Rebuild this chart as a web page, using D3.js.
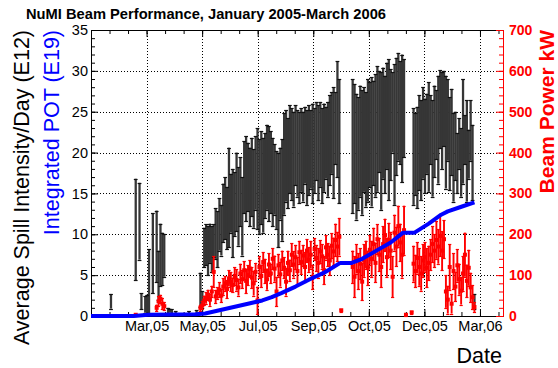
<!DOCTYPE html>
<html>
<head>
<meta charset="utf-8">
<script src="https://cdn.jsdelivr.net/npm/d3@7"></script>
<style>
  body { margin: 0; background: #fff; }
  svg { display: block; font-family: 'Liberation Sans', Arial, Helvetica, sans-serif; }
</style>
</head>
<body>
<div id="chart"></div>
<script>
// day numbers are counted from 1 Jan 2005
const xTickDays = [58.4, 116.8, 175.2, 233.6, 292.0, 350.4, 408.8];
const xTickLabels = ['Mar,05', 'May,05', 'Jul,05', 'Sep,05', 'Oct,05', 'Dec,05', 'Mar,06'];
const spillTicks = [0, 5, 10, 15, 20, 25, 30, 35];
const powerTicks = [0, 100, 200, 300, 400, 500, 600, 700];

const days = [21, 47, 51, 53, 57, 59, 61, 65, 69, 71, 73, 75, 77, 81, 83, 85, 89, 103, 111,
  115, 117, 119, 121, 123, 125, 127, 129, 131, 133, 135, 137, 139, 141, 143, 145, 147, 149, 151, 153,
  155, 157, 159, 161, 163, 165, 167, 169, 171, 173, 175, 177, 179, 181, 183, 185, 187, 189, 191, 193,
  195, 197, 199, 201, 203, 205, 207, 209, 211, 213, 215, 217, 219, 221, 223, 225, 227, 229, 231, 233,
  235, 237, 239, 241, 243, 245, 247, 249, 251, 253, 255, 257, 259, 261, 263,
  275, 277, 279, 281, 283, 285, 287, 289, 291, 293, 295, 297, 299, 301, 303, 305, 307, 309, 311, 313,
  315, 317, 319, 321, 323, 325, 327, 329, 331, 337,
  339, 341, 343, 345, 347, 349, 351, 353, 355, 357, 359, 361, 363, 365, 367, 369, 371, 373, 375, 377,
  379, 381, 383, 385, 387, 389, 391, 393, 395, 397, 399, 401, 403];

// average spill intensity (E12) and its error
const spillVal = [1.8, 10.6, 11.6, 1.8, 1.4, 1.5, 4.2, 7.7, 8.5, 5.0, 7.5, 7.0, 7.4, 0.65, 0.65, 0.55, 0.4, 0.4, 0.5,
  3.2, 2.0, 8.4, 8.7, 8.0, 8.9, 8.2, 9.2, 10.1, 9.4,
  11.2, 10.5, 12.6, 13.2, 12.0, 14.5, 13.8, 12.6, 13.7, 15.2,
  13.4, 15.2, 12.2, 17.0, 16.8, 17.0, 15.8, 17.0, 15.6, 17.5,
  16.8, 15.8, 16.9, 16.0, 17.2, 18.2, 17.4, 17.6, 16.4, 16.7,
  15.4, 14.2, 16.2, 15.4, 18.6, 19.6, 18.7, 20.4, 19.8, 19.2,
  20.9, 19.9, 19.4, 20.3, 19.5, 20.9, 19.4, 20.3, 20.4, 19.9,
  20.2, 21.4, 20.0, 21.0, 19.6, 20.6, 21.2, 20.4, 21.5, 22.4,
  21.2, 23.0, 24.1, 21.4, null,
  20.8, 21.1, 19.5, 19.9, 21.4, 20.0, 21.6, 20.4, 21.5, 22.2,
  21.3, 22.4, 22.1, 22.9, 23.8, 21.4, 23.6, 22.2, 24.5, 22.8,
  23.4, 24.9, 22.2, 24.4, 25.6, 24.9, 24.2, 25.4, null, null,
  19.5, 19.8, 19.4, 21.2, 20.3, 22.4, 20.8, 22.3, 21.9, 22.8,
  20.5, 22.6, 23.4, 22.8, 25.3, 23.9, 25.4, 22.5, 24.0, 21.1,
  22.5, 19.4, 20.8, 18.7, 21.1, 18.8, 22.6, 21.6, 20.2, 19.8,
  22.7, 18.8, 1.8];
const spillErr = [0.9, 6.2, 4.7, 1.0, 1.0, 1.1, 4.0, 4.9, 4.4, 3.0, 3.8, 3.2, 2.6, 0.35, 0.25, 0.25, 0.2, 0.2, 0.2,
  2.1, 1.0, 2.4, 2.5, 3.0, 2.4, 2.8, 2.0, 3.1, 3.4,
  3.2, 3.1, 3.6, 3.8, 3.8, 6.1, 3.6, 5.4, 3.9, 4.8,
  4.8, 4.2, 4.8, 4.4, 5.2, 4.2, 4.8, 4.8, 4.8, 4.5,
  6.2, 5.8, 5.7, 5.8, 5.2, 5.2, 5.8, 5.0, 5.4, 4.3,
  4.8, 5.8, 4.4, 6.2, 6.2, 5.6, 5.5, 5.4, 5.6, 5.8,
  4.9, 5.3, 5.6, 5.1, 5.5, 4.7, 5.8, 5.5, 4.8, 6.1,
  5.2, 4.8, 5.8, 5.2, 5.8, 5.4, 4.4, 5.8, 5.5, 5.0,
  6.8, 4.4, 7.1, 7.6, null,
  8.2, 7.3, 7.7, 6.9, 6.8, 7.6, 6.4, 7.0, 7.5, 6.4,
  7.9, 6.4, 7.5, 7.7, 6.2, 8.4, 6.8, 7.2, 6.5, 8.6,
  6.8, 4.9, 8.6, 7.2, 6.6, 6.3, 7.8, 6.0, null, null,
  5.9, 5.0, 6.2, 5.8, 6.1, 5.6, 5.8, 4.9, 6.7, 4.2,
  5.9, 5.6, 4.2, 6.6, 4.8, 5.9, 4.6, 6.9, 5.0, 5.7,
  5.3, 5.4, 4.2, 3.7, 3.1, 4.2, 6.4, 3.0, 6.2, 3.0,
  3.7, 4.6, 0.9];

// beam power (kW) and its error
const powerVal = [null, 3, null, null, null, null, null, null, 20, 36, 42, 30, 24, null, null, null, null, null, null,
  20, 26, 38, 44, 52, 40, 60, 108, 48, 56,
  64, 50, 72, 80, 66, 92, 84, 76, 98, 88,
  70, 104, 90, 112, 86, 100, 116, 94, 80, 108,
  38, 120, 98, 132, 110, 90, 126, 104, 140, 116,
  60, 124, 102, 136, 118, 84, 130, 112, 150, 126,
  144, 110, 156, 132, 148, 120, 160, 138, 150, 96,
  164, 142, 130, 158, 146, 112, 168, 150, 136, 172,
  158, 186, 170, 194, 14,
  120, 96, 140, 110, 128, 84, 136, 150, 118, 162,
  140, 176, 130, 188, 150, 120, 176, 198, 144, 186,
  160, 96, 204, 170, 220, 180, 150, 210, 3, 9,
  128, 110, 142, 120, 104, 136, 144, 118, 130, 150,
  176, 160, 186, 170, 196, 160, 188, 60, 40, 120,
  30, 110, 72, 124, 90, 62, 104, 150, 86, 118,
  70, 46, 22];
const powerErr = [null, 2, null, null, null, null, null, null, 8, 12, 10, 14, 10, null, null, null, null, null, null,
  8, 10, 12, 14, 12, 15, 14, 38, 16, 14,
  18, 16, 20, 18, 22, 20, 24, 18, 22, 26,
  20, 24, 22, 22, 30, 24, 20, 26, 30, 22,
  34, 26, 28, 24, 30, 26, 28, 24, 26, 32,
  36, 28, 30, 24, 26, 34, 30, 26, 28, 32,
  30, 34, 28, 30, 26, 36, 28, 30, 34, 30,
  26, 32, 36, 28, 30, 34, 30, 28, 36, 30,
  34, 40, 36, 46, 3,
  40, 50, 36, 44, 38, 46, 40, 34, 42, 36,
  44, 40, 48, 36, 40, 50, 44, 40, 48, 42,
  46, 50, 44, 48, 50, 46, 56, 60, 2, 3,
  44, 40, 38, 46, 42, 40, 36, 48, 42, 38,
  44, 40, 46, 42, 50, 48, 46, 40, 34, 56,
  24, 44, 36, 40, 38, 34, 42, 54, 40, 44,
  36, 30, 12];

// integrated protons on target (E19)
const potDay = [0, 45, 60, 110, 120, 135, 150, 165, 180, 190, 200, 215, 230, 245, 262, 274, 285, 300, 315, 328, 340, 355, 368, 375, 390, 403];
const potVal = [0, 0, 0.15, 0.2, 0.3, 0.7, 1.1, 1.5, 1.9, 2.3, 2.8, 3.6, 4.5, 5.3, 6.5, 6.5, 7.0, 8.0, 9.0, 10.2, 10.2, 11.3, 12.4, 12.8, 13.4, 13.9];

const W = 558, H = 368;
const frame = {left: 91, right: 503, top: 30, bottom: 316};
const FONT = "'Liberation Sans', Arial, Helvetica, sans-serif";

const x = d3.scaleLinear().domain([0, 433]).range([frame.left, frame.right]);
const yL = d3.scaleLinear().domain([0, 35]).range([frame.bottom, frame.top]);
const yR = d3.scaleLinear().domain([0, 700]).range([frame.bottom, frame.top]);

const svg = d3.select('#chart').append('svg')
  .attr('width', W)
  .attr('height', H);

// dotted grid
let grid = svg.append('g')
  .attr('stroke', '#000')
  .attr('stroke-width', 1)
  .attr('stroke-dasharray', '1,2');
grid.selectAll('line.gx')
  .data(xTickDays)
  .join('line')
  .attr('class', 'gx')
  .attr('x1', d => Math.round(x(d)) + 0.5)
  .attr('x2', d => Math.round(x(d)) + 0.5)
  .attr('y1', frame.top)
  .attr('y2', frame.bottom);
grid.selectAll('line.gy')
  .data(spillTicks.slice(1, -1))
  .join('line')
  .attr('class', 'gy')
  .attr('x1', frame.left)
  .attr('x2', frame.right)
  .attr('y1', d => Math.round(yL(d)) + 0.5)
  .attr('y2', d => Math.round(yL(d)) + 0.5);

function styleAxis(g, size, weight, colour) {
  g.attr('font-family', FONT)
    .attr('font-size', size)
    .attr('font-weight', weight)
    .attr('color', colour);
}

// minor ticks
let xMinor = d3.range(0, 433, xTickDays[0] / 3);
svg.append('g')
  .attr('transform', 'translate(0,' + frame.bottom + ')')
  .call(d3.axisBottom(x).tickValues(xMinor).tickSizeInner(-4).tickSizeOuter(0).tickFormat(''));
svg.append('g')
  .attr('transform', 'translate(0,' + frame.top + ')')
  .call(d3.axisTop(x).tickValues(xMinor).tickSizeInner(-4).tickSizeOuter(0).tickFormat(''));
svg.append('g')
  .attr('transform', 'translate(' + frame.left + ',0)')
  .call(d3.axisLeft(yL).tickValues(d3.range(0, 36, 1)).tickSizeInner(-4).tickSizeOuter(0).tickFormat(''));

// major axes
let xAxis = svg.append('g')
  .attr('transform', 'translate(0,' + frame.bottom + ')')
  .call(d3.axisBottom(x).tickValues(xTickDays).tickFormat((d, i) => xTickLabels[i])
    .tickSizeInner(-7).tickSizeOuter(0).tickPadding(5));
styleAxis(xAxis, 14.5, 'normal', '#000');

svg.append('g')
  .attr('transform', 'translate(0,' + frame.top + ')')
  .call(d3.axisTop(x).tickValues(xTickDays).tickSizeInner(-7).tickSizeOuter(0).tickFormat(''));

let yAxis = svg.append('g')
  .attr('transform', 'translate(' + frame.left + ',0)')
  .call(d3.axisLeft(yL).tickValues(spillTicks).tickSizeInner(-7).tickSizeOuter(0).tickPadding(3));
styleAxis(yAxis, 14.5, 'normal', '#000');

let rMinor = svg.append('g')
  .attr('transform', 'translate(' + frame.right + ',0)')
  .call(d3.axisRight(yR).tickValues(d3.range(0, 701, 20)).tickSizeInner(-4).tickSizeOuter(0).tickFormat(''));
styleAxis(rMinor, 14, 'bold', '#ff0000');
let rAxis = svg.append('g')
  .attr('transform', 'translate(' + frame.right + ',0)')
  .call(d3.axisRight(yR).tickValues(powerTicks).tickSizeInner(-7).tickSizeOuter(0).tickPadding(6));
styleAxis(rAxis, 14, 'bold', '#ff0000');

// error bar graphs
function errorBars(parent, pts, scale, colour, width, capW, capColour) {
  let g = parent.append('g').attr('stroke', colour).attr('stroke-width', width);
  g.selectAll('line.bar')
    .data(pts)
    .join('line')
    .attr('class', 'bar')
    .attr('x1', d => x(d.d))
    .attr('x2', d => x(d.d))
    .attr('y1', d => scale(Math.max(0, d.v - d.e)))
    .attr('y2', d => scale(d.v + d.e));
  let caps = pts.flatMap(p => [{d: p.d, y: p.v + p.e}, {d: p.d, y: Math.max(0, p.v - p.e)}]);
  g.selectAll('line.cap')
    .data(caps)
    .join('line')
    .attr('class', 'cap')
    .attr('stroke', capColour)
    .attr('stroke-width', 1.2)
    .attr('x1', d => x(d.d) - capW)
    .attr('x2', d => x(d.d) + capW)
    .attr('y1', d => Math.round(scale(d.y)) + 0.5)
    .attr('y2', d => Math.round(scale(d.y)) + 0.5);
  return g;
}

let spill = days.map((d, i) => ({d: d, v: spillVal[i], e: spillErr[i]})).filter(p => p.v !== null);
let power = days.map((d, i) => ({d: d, v: powerVal[i], e: powerErr[i]})).filter(p => p.v !== null);

errorBars(svg, spill, yL, '#363636', 2.3, 1.9, '#111');
let red = errorBars(svg, power, yR, '#ff0000', 1.9, 1.6, '#ff0000');
red.selectAll('rect')
  .data(power)
  .join('rect')
  .attr('x', d => x(d.d) - 2)
  .attr('y', d => yR(d.v) - 2)
  .attr('width', 4)
  .attr('height', 4)
  .attr('stroke', 'none')
  .attr('fill', '#ff0000');

// integrated POT
let pot = potDay.map((d, i) => ({d: d, v: potVal[i]}));
svg.append('path')
  .datum(pot)
  .attr('fill', 'none')
  .attr('stroke', '#0000ff')
  .attr('stroke-width', 4)
  .attr('stroke-linejoin', 'round')
  .attr('d', d3.line().x(d => x(d.d)).y(d => yL(d.v)));

// titles
svg.append('text')
  .attr('x', 26)
  .attr('y', 19)
  .attr('font-size', 14.7)
  .attr('font-weight', 'bold')
  .text('NuMI Beam Performance, January 2005-March 2006');

svg.append('text')
  .attr('transform', 'translate(29,' + frame.top + ') rotate(-90)')
  .attr('text-anchor', 'end')
  .attr('font-size', 21.5)
  .text('Average Spill Intensity/Day (E12)');

svg.append('text')
  .attr('transform', 'translate(58.5,' + frame.top + ') rotate(-90)')
  .attr('text-anchor', 'end')
  .attr('font-size', 21.5)
  .attr('fill', '#0000ff')
  .text('Integrated POT (E19)');

svg.append('text')
  .attr('transform', 'translate(554,' + frame.top + ') rotate(-90)')
  .attr('text-anchor', 'end')
  .attr('font-size', 21)
  .attr('font-weight', 'bold')
  .attr('fill', '#ff0000')
  .text('Beam Power kW');

svg.append('text')
  .attr('x', 502)
  .attr('y', 362.5)
  .attr('text-anchor', 'end')
  .attr('font-size', 21.5)
  .text('Date');
</script>
</body>
</html>
